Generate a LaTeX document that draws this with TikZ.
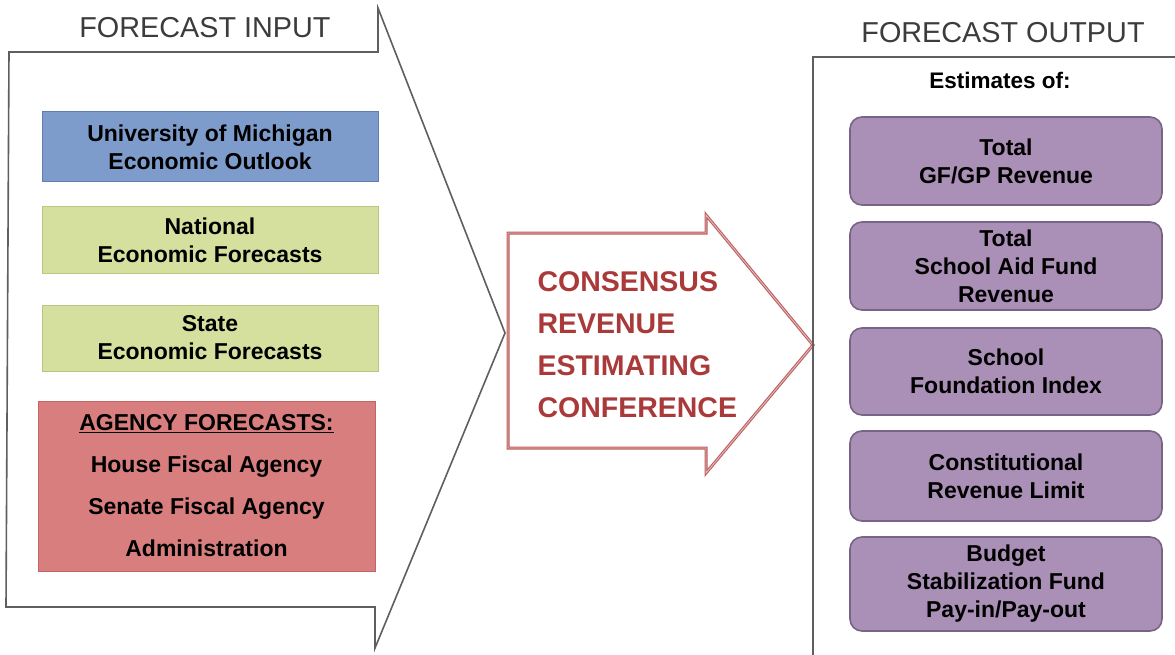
\documentclass[tikz,border=0pt]{standalone}
\usepackage{fontspec}
\setmainfont{Liberation Sans}
\definecolor{blueF}{RGB}{125,156,203}
\definecolor{blueD}{RGB}{95,125,175}
\definecolor{greenF}{RGB}{214,224,158}
\definecolor{greenD}{RGB}{185,198,130}
\definecolor{redF}{RGB}{216,126,126}
\definecolor{redD}{RGB}{196,100,100}
\definecolor{purF}{RGB}{170,143,182}
\definecolor{purD}{RGB}{120,100,135}
\definecolor{arrowR}{RGB}{190,95,95}
\definecolor{textR}{RGB}{170,58,58}
\definecolor{grayL}{RGB}{95,95,95}
\definecolor{titleG}{RGB}{60,60,60}
\begin{document}
\begin{tikzpicture}[x=1pt,y=-1pt,
  inbox/.style={rectangle, line width=1pt, minimum width=336pt, align=center,
    font=\fontsize{23}{28}\selectfont\bfseries, text=black},
  outbox/.style={rectangle, rounded corners=12pt, draw=purD, fill=purF, line width=1.6pt,
    minimum width=312pt, align=center, font=\fontsize{23}{28}\selectfont\bfseries, text=black},
  titletext/.style={font=\fontsize{28.8}{32}\selectfont, text=titleG},
  frame/.style={draw=grayL, line width=1.6pt, line join=miter}]
\useasboundingbox (0,0) rectangle (1175,655);
\fill[white] (0,0) rectangle (1175,655);
% left callout
\coordinate (c1) at (9,52);
\coordinate (c2) at (378,52);
\coordinate (c3) at (378,8);
\coordinate (ctip) at (505,333);
\coordinate (c4) at (375,648);
\coordinate (c5) at (375,607);
\coordinate (c6) at (6,607);
\draw[frame] (c1) -- (c2) -- (c3) -- (ctip) -- (c4) -- (c5) -- (c6) -- cycle;
\node[titletext] (tin) at (205,28) {FORECAST INPUT};
% input boxes
\node[inbox, draw=blueD, fill=blueF, minimum height=70pt] (um) at (210,147) {University of Michigan\\Economic Outlook};
\node[inbox, draw=greenD, fill=greenF, minimum height=66pt] (nat) at (210,240) {National\\Economic Forecasts};
\node[inbox, draw=greenD, fill=greenF, minimum height=66pt] (st) at (210,338) {State\\Economic Forecasts};
\node[inbox, draw=redD, fill=redF, minimum width=337pt, minimum height=170pt,
  font=\fontsize{23}{42}\selectfont\bfseries] (ag) at (206.5,486)
  {\underline{AGENCY FORECASTS:}\\House Fiscal Agency\\Senate Fiscal Agency\\Administration};
% middle arrow
\coordinate (a1) at (508,233);
\coordinate (a2) at (706,233);
\coordinate (a3) at (706,215);
\coordinate (atip) at (813,345);
\coordinate (a4) at (706,473);
\coordinate (a5) at (706,448);
\coordinate (a6) at (508,448);
\draw[draw=arrowR, line width=3pt, line join=miter] (a1) -- (a2) -- (a3) -- (atip) -- (a4) -- (a5) -- (a6) -- cycle;
\draw[draw=arrowR!40!white, line width=0.8pt, line join=miter] (a1) -- (a2) -- (a3) -- (atip) -- (a4) -- (a5) -- (a6) -- cycle;
\node[anchor=west, align=left, text=textR, font=\fontsize{28.5}{42}\selectfont\bfseries] (cons) at (534,345)
  {CONSENSUS\\REVENUE\\ESTIMATING\\CONFERENCE};
% right frame
\coordinate (r1) at (813,662);
\coordinate (r2) at (813,57);
\coordinate (r3) at (1180,57);
\draw[frame] (r1) -- (r2) -- (r3);
\node[titletext] (tout) at (1003,33) {FORECAST OUTPUT};
\node[font=\fontsize{22.5}{26}\selectfont\bfseries] (est) at (1000,80) {Estimates of:};
% output boxes
\node[outbox, minimum height=88pt] (o1) at (1006,161) {Total\\GF/GP Revenue};
\node[outbox, minimum height=88pt] (o2) at (1006,266) {Total\\School Aid Fund\\Revenue};
\node[outbox, minimum height=87pt] (o3) at (1006,371.5) {School\\Foundation Index};
\node[outbox, minimum height=90pt] (o4) at (1006,476) {Constitutional\\Revenue Limit};
\node[outbox, minimum height=94pt] (o5) at (1006,584) {Budget\\Stabilization Fund\\Pay-in/Pay-out};
\end{tikzpicture}
\end{document}
